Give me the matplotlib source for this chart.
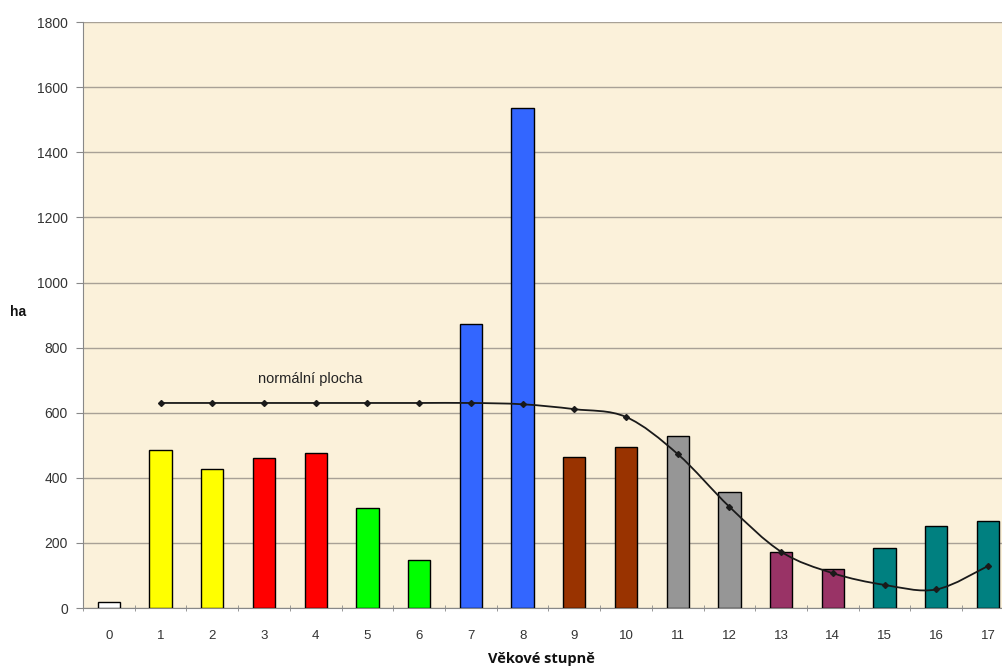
import numpy as np
import matplotlib
matplotlib.use('Agg')
from matplotlib import pyplot as plt
from matplotlib.path import Path
from matplotlib.patches import PathPatch

plt.rcParams['font.family'] = ['Liberation Sans', 'DejaVu Sans']

# vekove stupne a plochy (ha)
stupne = list(range(18))
plochy = [20, 485, 427, 461, 477, 308, 146, 872, 1535, 463, 495, 528, 357, 173, 121, 183, 253, 267]
barvy = ['#FFFFFF', '#FFFF00', '#FFFF00', '#FF0000', '#FF0000', '#00FF00', '#00FF00',
         '#3366FF', '#3366FF', '#993300', '#993300', '#969696', '#969696',
         '#993366', '#993366', '#008080', '#008080', '#008080']

# normalni plocha pro stupne 1..17
norm_x = list(range(1, 18))
norm_y = [630, 630, 630, 630, 630, 630, 630, 626, 611, 587, 473, 311, 173, 107, 71, 57, 129]


def smooth_path(xs, ys, t=1/6):
    # vyhlazena cara (Catmull-Rom -> Bezier), jako v Excelu
    pts = np.column_stack([xs, ys]).astype(float)
    verts = [pts[0]]
    codes = [Path.MOVETO]
    n = len(pts)
    for i in range(n - 1):
        p0 = pts[i - 1] if i > 0 else pts[i]
        p1 = pts[i]
        p2 = pts[i + 1]
        p3 = pts[i + 2] if i + 2 < n else pts[i + 1]
        c1 = p1 + (p2 - p0) * t
        c2 = p2 - (p3 - p1) * t
        verts += [c1, c2, p2]
        codes += [Path.CURVE4] * 3
    return Path(verts, codes)


fig = plt.figure(figsize=(10.03, 6.68), dpi=100)
ax = fig.add_axes([0.0828, 0.0898, 0.928, 0.877])
ax.set_facecolor('#FBF1DA')

ax.bar(stupne, plochy, width=0.43, color=barvy, edgecolor='black', linewidth=1, zorder=3)

ax.add_patch(PathPatch(smooth_path(norm_x, norm_y), facecolor='none', edgecolor='#1a1a1a',
                       linewidth=1.3, zorder=4))
ax.plot(norm_x, norm_y, linestyle='none', marker='D', markersize=3, color='#1a1a1a', zorder=5)
ax.text(3.9, 703, 'normální plocha', fontsize=10.5, color='#222222', ha='center', va='center')

ax.set_xlim(-0.5, 17.5)
ax.set_ylim(0, 1800)
ax.set_yticks(range(0, 1801, 200))
ax.yaxis.grid(True, color='#A8A196', linewidth=1)
ax.set_axisbelow(True)

ax.set_xticks(stupne)
ax.set_xticklabels([str(s) for s in stupne])
ax.set_xticks(np.arange(-0.5, 18, 1), minor=True)
ax.tick_params(axis='x', which='major', length=0, pad=16, labelsize=9.5, colors='#333333')
ax.tick_params(axis='x', which='minor', length=5, direction='inout', color='#888888')
ax.tick_params(axis='y', length=5, color='#888888', labelsize=10, labelcolor='#333333', pad=6)

for s in ['top', 'right']:
    ax.spines[s].set_visible(False)
for s in ['left', 'bottom']:
    ax.spines[s].set_color('#888888')

fig.text(0.540, 0.013, 'Věkové stupně', fontsize=10.5, fontweight='bold',
         family=['Open Sans', 'DejaVu Sans'], ha='center', va='center', color='#111111')
fig.text(0.018, 0.533, 'ha', fontsize=10, fontweight='bold', ha='center', va='center',
         color='#111111')

fig.savefig('out.png', dpi=100)
